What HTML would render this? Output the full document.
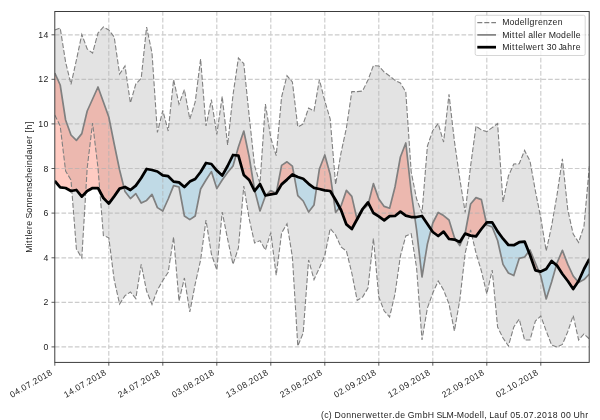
<!DOCTYPE html>
<html><head><meta charset="utf-8"><title>Sonnenscheindauer</title>
<style>html,body{margin:0;padding:0;background:#fff}svg{display:block}text{font-family:"Liberation Sans",sans-serif;fill:#1a1a1a}</style></head>
<body>
<svg width="600" height="420" viewBox="0 0 600 420">
<rect width="600" height="420" fill="#fff"/>
<defs><clipPath id="c"><rect x="54.8" y="11.5" width="534.4" height="350.9"/></clipPath></defs>
<g clip-path="url(#c)">
<polygon points="54.8,30.0 60.2,28.0 65.6,62.0 71.0,84.4 76.4,60.0 81.8,34.4 87.2,49.0 92.6,53.0 98.0,33.0 103.4,27.0 108.8,30.0 114.2,37.0 119.6,74.0 125.0,66.0 130.4,103.0 135.8,84.0 141.2,78.4 146.6,27.0 152.0,53.0 157.4,132.4 162.8,110.5 168.2,131.0 173.6,79.6 179.0,104.0 184.4,89.6 189.8,119.0 195.2,102.0 200.6,59.0 206.0,126.0 211.4,99.6 216.8,134.5 222.2,96.4 227.6,145.0 233.0,95.0 238.4,58.0 243.8,63.6 249.2,116.0 254.6,166.0 260.0,183.5 265.4,104.0 270.8,138.0 276.2,155.6 281.6,97.0 287.0,75.6 292.4,82.0 297.8,127.0 303.2,124.0 308.6,108.0 314.0,111.0 319.4,79.6 324.8,101.0 330.2,119.0 335.6,184.5 341.0,153.0 346.4,128.0 351.8,91.6 357.2,91.6 362.6,91.0 368.0,80.0 373.4,65.6 378.8,66.0 384.2,72.0 389.6,76.0 395.0,80.4 400.4,83.0 405.8,92.0 411.2,172.0 416.6,199.0 422.0,213.0 427.4,146.0 432.8,130.5 438.2,123.6 443.6,142.0 449.0,94.4 454.4,141.0 459.8,179.0 465.2,212.4 470.6,166.0 476.0,126.0 481.4,130.0 486.8,131.6 492.2,127.6 497.6,123.6 503.0,202.0 508.4,176.0 513.8,164.0 519.2,163.8 524.6,150.4 530.0,161.0 535.4,191.0 540.8,218.0 546.2,251.0 551.6,226.0 557.0,195.0 562.4,158.8 567.8,210.0 573.2,234.0 578.6,242.4 584.0,226.0 589.4,166.0 589.4,339.0 584.0,334.0 578.6,340.0 573.2,315.6 567.8,331.6 562.4,344.4 557.0,347.0 551.6,345.0 546.2,331.0 540.8,316.0 535.4,321.0 530.0,340.0 524.6,340.0 519.2,319.0 513.8,327.0 508.4,346.0 503.0,338.0 497.6,327.0 492.2,270.0 486.8,293.8 481.4,271.0 476.0,253.0 470.6,230.0 465.2,253.0 459.8,300.0 454.4,331.0 449.0,304.0 443.6,290.0 438.2,281.0 432.8,293.0 427.4,308.0 422.0,340.0 416.6,268.0 411.2,233.8 405.8,236.0 400.4,256.0 395.0,294.0 389.6,317.0 384.2,311.0 378.8,297.0 373.4,238.4 368.0,288.0 362.6,297.0 357.2,300.4 351.8,273.0 346.4,251.0 341.0,247.0 335.6,235.0 330.2,228.5 324.8,255.6 319.4,268.0 314.0,279.6 308.6,260.0 303.2,333.0 297.8,346.0 292.4,257.0 287.0,223.8 281.6,233.0 276.2,275.3 270.8,232.6 265.4,250.0 260.0,240.6 254.6,243.0 249.2,219.0 243.8,186.0 238.4,248.0 233.0,264.4 227.6,239.0 222.2,212.0 216.8,270.0 211.4,254.0 206.0,220.0 200.6,260.0 195.2,284.0 189.8,312.0 184.4,278.0 179.0,301.0 173.6,237.0 168.2,272.2 162.8,280.5 157.4,290.0 152.0,304.4 146.6,291.0 141.2,264.4 135.8,298.6 130.4,292.0 125.0,295.6 119.6,304.0 114.2,280.0 108.8,237.8 103.4,235.6 98.0,168.0 92.6,123.0 87.2,168.0 81.8,258.0 76.4,249.0 71.0,180.0 65.6,171.0 60.2,126.0 54.8,115.0" fill="rgba(128,128,128,0.225)"/>
<polygon points="54.8,73.0 60.2,85.0 65.6,120.0 71.0,135.0 76.4,140.4 81.8,133.6 87.2,111.0 92.6,99.0 98.0,87.0 103.4,102.0 108.8,117.0 114.2,144.0 119.6,170.0 123.9,187.3 123.9,187.3 119.6,188.6 114.2,196.4 108.8,203.6 103.4,198.0 98.0,188.0 92.6,188.0 87.2,191.0 81.8,196.6 76.4,190.0 71.0,191.0 65.6,188.0 60.2,187.4 54.8,181.0" fill="rgba(255,99,71,0.335)"/>
<polygon points="236.0,155.3 238.4,147.0 243.8,131.0 249.2,157.0 254.6,190.0 254.8,190.8 254.8,190.8 254.6,191.0 249.2,180.0 243.8,175.0 238.4,155.6 236.0,155.3" fill="rgba(255,99,71,0.335)"/>
<polygon points="266.0,195.4 270.8,190.4 276.2,193.5 276.2,193.5 270.8,194.4 266.0,195.4" fill="rgba(255,99,71,0.335)"/>
<polygon points="276.2,193.5 281.6,165.4 287.0,161.8 292.4,166.2 294.1,175.2 294.1,175.2 292.4,174.4 287.0,179.6 281.6,184.4 276.2,193.5" fill="rgba(255,99,71,0.335)"/>
<polygon points="316.5,188.4 319.4,169.0 324.8,155.0 330.2,174.5 333.3,196.1 333.3,196.1 330.2,191.0 324.8,190.4 319.4,189.0 316.5,188.4" fill="rgba(255,99,71,0.335)"/>
<polygon points="339.7,207.6 341.0,206.0 346.4,190.4 351.8,196.4 357.0,219.3 357.0,219.3 351.8,229.0 346.4,224.4 341.0,210.0 339.7,207.6" fill="rgba(255,99,71,0.335)"/>
<polygon points="368.4,203.3 373.4,183.6 378.8,199.0 384.2,206.4 389.6,208.2 395.0,187.0 400.4,157.0 405.8,143.0 411.2,192.0 414.8,217.0 414.8,217.0 411.2,217.0 405.8,215.6 400.4,211.6 395.0,216.0 389.6,216.2 384.2,220.4 378.8,216.4 373.4,213.0 368.4,203.3" fill="rgba(255,99,71,0.335)"/>
<polygon points="431.1,229.5 432.8,223.0 438.2,212.4 443.6,215.6 449.0,220.0 454.4,237.5 456.4,240.5 456.4,240.5 454.4,239.6 449.0,239.0 443.6,231.6 438.2,236.0 432.8,232.0 431.1,229.5" fill="rgba(255,99,71,0.335)"/>
<polygon points="464.4,234.8 465.2,233.0 470.6,204.0 476.0,197.6 481.4,199.6 486.4,222.9 486.4,222.9 481.4,229.0 476.0,236.4 470.6,235.6 465.2,233.6 464.4,234.8" fill="rgba(255,99,71,0.335)"/>
<polygon points="528.7,251.7 530.0,250.0 535.4,263.0 538.8,271.2 538.8,271.2 535.4,270.4 530.0,255.0 528.7,251.7" fill="rgba(255,99,71,0.335)"/>
<polygon points="556.4,265.1 557.0,263.0 562.4,250.4 567.8,264.4 573.2,276.0 578.1,281.8 578.1,281.8 573.2,289.0 567.8,281.0 562.4,274.0 557.0,265.6 556.4,265.1" fill="rgba(255,99,71,0.335)"/>
<polygon points="123.9,187.3 125.0,191.6 130.4,198.6 135.8,193.6 141.2,203.0 146.6,200.4 152.0,194.4 157.4,207.6 162.8,211.0 168.2,199.0 173.6,185.6 179.0,187.0 184.4,216.0 189.8,219.6 195.2,216.0 200.6,189.0 206.0,180.0 211.4,171.6 216.8,188.6 222.2,180.0 227.6,172.5 233.0,166.0 236.0,155.3 236.0,155.3 233.0,155.0 227.6,166.0 222.2,175.6 216.8,170.6 211.4,164.0 206.0,163.0 200.6,172.0 195.2,179.0 189.8,181.6 184.4,187.0 179.0,182.4 173.6,181.6 168.2,176.2 162.8,175.3 157.4,171.5 152.0,170.0 146.6,169.0 141.2,178.0 135.8,185.6 130.4,190.0 125.0,187.0 123.9,187.3" fill="rgba(125,200,235,0.35)"/>
<polygon points="254.8,190.8 260.0,211.0 265.4,196.0 266.0,195.4 266.0,195.4 265.4,195.5 260.0,184.2 254.8,190.8" fill="rgba(125,200,235,0.35)"/>
<polygon points="294.1,175.2 297.8,195.6 303.2,201.0 308.6,212.0 314.0,205.0 316.5,188.4 316.5,188.4 314.0,187.8 308.6,183.8 303.2,178.7 297.8,177.0 294.1,175.2" fill="rgba(125,200,235,0.35)"/>
<polygon points="333.3,196.1 335.6,212.4 339.7,207.6 339.7,207.6 335.6,200.0 333.3,196.1" fill="rgba(125,200,235,0.35)"/>
<polygon points="357.0,219.3 357.2,220.0 362.6,210.0 368.0,205.0 368.4,203.3 368.4,203.3 368.0,202.4 362.6,209.0 357.2,219.0 357.0,219.3" fill="rgba(125,200,235,0.35)"/>
<polygon points="414.8,217.0 416.6,230.0 422.0,277.0 427.4,244.0 431.1,229.5 431.1,229.5 427.4,224.0 422.0,216.0 416.6,217.0 414.8,217.0" fill="rgba(125,200,235,0.35)"/>
<polygon points="456.4,240.5 459.8,245.6 464.4,234.8 464.4,234.8 459.8,242.0 456.4,240.5" fill="rgba(125,200,235,0.35)"/>
<polygon points="486.4,222.9 486.8,225.0 492.2,227.0 497.6,240.5 503.0,264.4 508.4,273.0 513.8,275.6 519.2,258.4 524.6,257.0 528.7,251.7 528.7,251.7 524.6,241.6 519.2,242.2 513.8,245.2 508.4,245.0 503.0,238.7 497.6,231.4 492.2,222.4 486.8,222.4 486.4,222.9" fill="rgba(125,200,235,0.35)"/>
<polygon points="538.8,271.2 540.8,276.0 546.2,299.0 551.6,282.0 556.4,265.1 556.4,265.1 551.6,261.0 546.2,269.0 540.8,271.6 538.8,271.2" fill="rgba(125,200,235,0.35)"/>
<polygon points="578.1,281.8 578.6,282.4 584.0,279.6 589.4,274.0 589.4,259.0 584.0,269.0 578.6,281.0 578.1,281.8" fill="rgba(125,200,235,0.35)"/>
<path d="M108.8,362.4V11.5 M162.8,362.4V11.5 M216.8,362.4V11.5 M270.8,362.4V11.5 M324.8,362.4V11.5 M378.8,362.4V11.5 M432.8,362.4V11.5 M486.8,362.4V11.5 M540.8,362.4V11.5 M54.8,346.9H589.2 M54.8,302.3H589.2 M54.8,257.8H589.2 M54.8,213.1H589.2 M54.8,168.5H589.2 M54.8,123.9H589.2 M54.8,79.3H589.2 M54.8,34.8H589.2" fill="none" stroke="rgba(176,176,176,0.65)" stroke-width="1.15" stroke-dasharray="4.65 2.017"/>
<polyline points="54.8,30.0 60.2,28.0 65.6,62.0 71.0,84.4 76.4,60.0 81.8,34.4 87.2,49.0 92.6,53.0 98.0,33.0 103.4,27.0 108.8,30.0 114.2,37.0 119.6,74.0 125.0,66.0 130.4,103.0 135.8,84.0 141.2,78.4 146.6,27.0 152.0,53.0 157.4,132.4 162.8,110.5 168.2,131.0 173.6,79.6 179.0,104.0 184.4,89.6 189.8,119.0 195.2,102.0 200.6,59.0 206.0,126.0 211.4,99.6 216.8,134.5 222.2,96.4 227.6,145.0 233.0,95.0 238.4,58.0 243.8,63.6 249.2,116.0 254.6,166.0 260.0,183.5 265.4,104.0 270.8,138.0 276.2,155.6 281.6,97.0 287.0,75.6 292.4,82.0 297.8,127.0 303.2,124.0 308.6,108.0 314.0,111.0 319.4,79.6 324.8,101.0 330.2,119.0 335.6,184.5 341.0,153.0 346.4,128.0 351.8,91.6 357.2,91.6 362.6,91.0 368.0,80.0 373.4,65.6 378.8,66.0 384.2,72.0 389.6,76.0 395.0,80.4 400.4,83.0 405.8,92.0 411.2,172.0 416.6,199.0 422.0,213.0 427.4,146.0 432.8,130.5 438.2,123.6 443.6,142.0 449.0,94.4 454.4,141.0 459.8,179.0 465.2,212.4 470.6,166.0 476.0,126.0 481.4,130.0 486.8,131.6 492.2,127.6 497.6,123.6 503.0,202.0 508.4,176.0 513.8,164.0 519.2,163.8 524.6,150.4 530.0,161.0 535.4,191.0 540.8,218.0 546.2,251.0 551.6,226.0 557.0,195.0 562.4,158.8 567.8,210.0 573.2,234.0 578.6,242.4 584.0,226.0 589.4,166.0" fill="none" stroke="#808080" stroke-width="1.1" stroke-dasharray="5 2"/>
<polyline points="54.8,115.0 60.2,126.0 65.6,171.0 71.0,180.0 76.4,249.0 81.8,258.0 87.2,168.0 92.6,123.0 98.0,168.0 103.4,235.6 108.8,237.8 114.2,280.0 119.6,304.0 125.0,295.6 130.4,292.0 135.8,298.6 141.2,264.4 146.6,291.0 152.0,304.4 157.4,290.0 162.8,280.5 168.2,272.2 173.6,237.0 179.0,301.0 184.4,278.0 189.8,312.0 195.2,284.0 200.6,260.0 206.0,220.0 211.4,254.0 216.8,270.0 222.2,212.0 227.6,239.0 233.0,264.4 238.4,248.0 243.8,186.0 249.2,219.0 254.6,243.0 260.0,240.6 265.4,250.0 270.8,232.6 276.2,275.3 281.6,233.0 287.0,223.8 292.4,257.0 297.8,346.0 303.2,333.0 308.6,260.0 314.0,279.6 319.4,268.0 324.8,255.6 330.2,228.5 335.6,235.0 341.0,247.0 346.4,251.0 351.8,273.0 357.2,300.4 362.6,297.0 368.0,288.0 373.4,238.4 378.8,297.0 384.2,311.0 389.6,317.0 395.0,294.0 400.4,256.0 405.8,236.0 411.2,233.8 416.6,268.0 422.0,340.0 427.4,308.0 432.8,293.0 438.2,281.0 443.6,290.0 449.0,304.0 454.4,331.0 459.8,300.0 465.2,253.0 470.6,230.0 476.0,253.0 481.4,271.0 486.8,293.8 492.2,270.0 497.6,327.0 503.0,338.0 508.4,346.0 513.8,327.0 519.2,319.0 524.6,340.0 530.0,340.0 535.4,321.0 540.8,316.0 546.2,331.0 551.6,345.0 557.0,347.0 562.4,344.4 567.8,331.6 573.2,315.6 578.6,340.0 584.0,334.0 589.4,339.0" fill="none" stroke="#808080" stroke-width="1.1" stroke-dasharray="5 2"/>
<polyline points="54.8,73.0 60.2,85.0 65.6,120.0 71.0,135.0 76.4,140.4 81.8,133.6 87.2,111.0 92.6,99.0 98.0,87.0 103.4,102.0 108.8,117.0 114.2,144.0 119.6,170.0 125.0,191.6 130.4,198.6 135.8,193.6 141.2,203.0 146.6,200.4 152.0,194.4 157.4,207.6 162.8,211.0 168.2,199.0 173.6,185.6 179.0,187.0 184.4,216.0 189.8,219.6 195.2,216.0 200.6,189.0 206.0,180.0 211.4,171.6 216.8,188.6 222.2,180.0 227.6,172.5 233.0,166.0 238.4,147.0 243.8,131.0 249.2,157.0 254.6,190.0 260.0,211.0 265.4,196.0 270.8,190.4 276.2,193.5 281.6,165.4 287.0,161.8 292.4,166.2 297.8,195.6 303.2,201.0 308.6,212.0 314.0,205.0 319.4,169.0 324.8,155.0 330.2,174.5 335.6,212.4 341.0,206.0 346.4,190.4 351.8,196.4 357.2,220.0 362.6,210.0 368.0,205.0 373.4,183.6 378.8,199.0 384.2,206.4 389.6,208.2 395.0,187.0 400.4,157.0 405.8,143.0 411.2,192.0 416.6,230.0 422.0,277.0 427.4,244.0 432.8,223.0 438.2,212.4 443.6,215.6 449.0,220.0 454.4,237.5 459.8,245.6 465.2,233.0 470.6,204.0 476.0,197.6 481.4,199.6 486.8,225.0 492.2,227.0 497.6,240.5 503.0,264.4 508.4,273.0 513.8,275.6 519.2,258.4 524.6,257.0 530.0,250.0 535.4,263.0 540.8,276.0 546.2,299.0 551.6,282.0 557.0,263.0 562.4,250.4 567.8,264.4 573.2,276.0 578.6,282.4 584.0,279.6 589.4,274.0" fill="none" stroke="#808080" stroke-width="1.7" stroke-linejoin="round"/>
<polyline points="54.8,181.0 60.2,187.4 65.6,188.0 71.0,191.0 76.4,190.0 81.8,196.6 87.2,191.0 92.6,188.0 98.0,188.0 103.4,198.0 108.8,203.6 114.2,196.4 119.6,188.6 125.0,187.0 130.4,190.0 135.8,185.6 141.2,178.0 146.6,169.0 152.0,170.0 157.4,171.5 162.8,175.3 168.2,176.2 173.6,181.6 179.0,182.4 184.4,187.0 189.8,181.6 195.2,179.0 200.6,172.0 206.0,163.0 211.4,164.0 216.8,170.6 222.2,175.6 227.6,166.0 233.0,155.0 238.4,155.6 243.8,175.0 249.2,180.0 254.6,191.0 260.0,184.2 265.4,195.5 270.8,194.4 276.2,193.5 281.6,184.4 287.0,179.6 292.4,174.4 297.8,177.0 303.2,178.7 308.6,183.8 314.0,187.8 319.4,189.0 324.8,190.4 330.2,191.0 335.6,200.0 341.0,210.0 346.4,224.4 351.8,229.0 357.2,219.0 362.6,209.0 368.0,202.4 373.4,213.0 378.8,216.4 384.2,220.4 389.6,216.2 395.0,216.0 400.4,211.6 405.8,215.6 411.2,217.0 416.6,217.0 422.0,216.0 427.4,224.0 432.8,232.0 438.2,236.0 443.6,231.6 449.0,239.0 454.4,239.6 459.8,242.0 465.2,233.6 470.6,235.6 476.0,236.4 481.4,229.0 486.8,222.4 492.2,222.4 497.6,231.4 503.0,238.7 508.4,245.0 513.8,245.2 519.2,242.2 524.6,241.6 530.0,255.0 535.4,270.4 540.8,271.6 546.2,269.0 551.6,261.0 557.0,265.6 562.4,274.0 567.8,281.0 573.2,289.0 578.6,281.0 584.0,269.0 589.4,259.0" fill="none" stroke="#000" stroke-width="2.75" stroke-linejoin="round"/>
</g>
<rect x="54.8" y="11.5" width="534.4" height="350.9" fill="none" stroke="#333" stroke-width="0.95"/>
<path d="M54.8,362.4v3.3 M108.8,362.4v3.3 M162.8,362.4v3.3 M216.8,362.4v3.3 M270.8,362.4v3.3 M324.8,362.4v3.3 M378.8,362.4v3.3 M432.8,362.4v3.3 M486.8,362.4v3.3 M540.8,362.4v3.3 M54.8,346.9h-3.3 M54.8,302.3h-3.3 M54.8,257.8h-3.3 M54.8,213.1h-3.3 M54.8,168.5h-3.3 M54.8,123.9h-3.3 M54.8,79.3h-3.3 M54.8,34.8h-3.3" fill="none" stroke="#333" stroke-width="0.8"/>
<rect x="475.2" y="15.3" width="110" height="40.2" rx="1.7" fill="#fff" fill-opacity="0.8" stroke="#ccc" stroke-width="0.8"/>
<path d="M477.3,22.6H496" stroke="#808080" stroke-width="1.1" stroke-dasharray="5 2" fill="none"/>
<path d="M477.3,34.9H496" stroke="#808080" stroke-width="1.7" fill="none"/>
<path d="M477.3,47.2H496" stroke="#000" stroke-width="2.75" fill="none"/>
<g opacity="0.99">
<text x="43.43" y="350.1" font-size="8.7">0</text>
<text x="43.43" y="305.4" font-size="8.7">2</text>
<text x="43.43" y="260.9" font-size="8.7">4</text>
<text x="43.43" y="216.2" font-size="8.7">6</text>
<text x="43.43" y="171.6" font-size="8.7">8</text>
<text x="38.13 43.43" y="127.0" font-size="8.7">10</text>
<text x="38.13 43.43" y="82.4" font-size="8.7">12</text>
<text x="38.13 43.43" y="37.9" font-size="8.7">14</text>
<text transform="translate(53.0,374.2) rotate(-30)" x="-47.48 -42.18 -36.99 -34.23 -28.93 -23.74 -20.98 -15.67 -10.37 -5.07" y="0.0" font-size="8.7">04.07.2018</text>
<text transform="translate(107.0,374.2) rotate(-30)" x="-47.48 -42.18 -36.99 -34.23 -28.93 -23.74 -20.98 -15.67 -10.37 -5.07" y="0.0" font-size="8.7">14.07.2018</text>
<text transform="translate(161.0,374.2) rotate(-30)" x="-47.48 -42.18 -36.99 -34.23 -28.93 -23.74 -20.98 -15.67 -10.37 -5.07" y="0.0" font-size="8.7">24.07.2018</text>
<text transform="translate(215.0,374.2) rotate(-30)" x="-47.48 -42.18 -36.99 -34.23 -28.93 -23.74 -20.98 -15.67 -10.37 -5.07" y="0.0" font-size="8.7">03.08.2018</text>
<text transform="translate(269.0,374.2) rotate(-30)" x="-47.48 -42.18 -36.99 -34.23 -28.93 -23.74 -20.98 -15.67 -10.37 -5.07" y="0.0" font-size="8.7">13.08.2018</text>
<text transform="translate(323.0,374.2) rotate(-30)" x="-47.48 -42.18 -36.99 -34.23 -28.93 -23.74 -20.98 -15.67 -10.37 -5.07" y="0.0" font-size="8.7">23.08.2018</text>
<text transform="translate(377.0,374.2) rotate(-30)" x="-47.48 -42.18 -36.99 -34.23 -28.93 -23.74 -20.98 -15.67 -10.37 -5.07" y="0.0" font-size="8.7">02.09.2018</text>
<text transform="translate(431.0,374.2) rotate(-30)" x="-47.48 -42.18 -36.99 -34.23 -28.93 -23.74 -20.98 -15.67 -10.37 -5.07" y="0.0" font-size="8.7">12.09.2018</text>
<text transform="translate(485.0,374.2) rotate(-30)" x="-47.48 -42.18 -36.99 -34.23 -28.93 -23.74 -20.98 -15.67 -10.37 -5.07" y="0.0" font-size="8.7">22.09.2018</text>
<text transform="translate(539.0,374.2) rotate(-30)" x="-47.48 -42.18 -36.99 -34.23 -28.93 -23.74 -20.98 -15.67 -10.37 -5.07" y="0.0" font-size="8.7">02.10.2018</text>
<text transform="translate(31.8,187) rotate(-90)" x="-65.84 -58.43 -55.89 -52.62 -49.59 -47.32 -42.07 -38.76 -33.67 -31.39 -25.71 -20.52 -15.24 -10.04 -4.83 0.22 4.68 9.37 14.57 19.75 22.09 27.38 32.58 37.77 42.97 48.22 51.50 54.45 57.50 62.98" y="0.0" font-size="8.7">Mittlere Sonnenscheindauer [h]</text>
<text x="321.00 324.19 328.83 332.02 334.62 341.10 346.29 351.57 356.78 362.02 365.45 372.14 377.55 380.82 383.81 389.05 392.33 395.09 400.30 405.40 407.77 414.82 422.73 427.78 434.17 436.45 441.90 446.61 453.88 456.81 464.16 469.35 474.56 479.73 482.05 484.29 486.94 489.37 494.24 499.44 504.76 507.55 510.31 515.61 520.80 523.56 528.87 534.05 536.82 542.12 547.42 552.72 557.91 560.67 565.97 571.16 573.60 580.01 585.34" y="417.5" font-size="8.7">(c) Donnerwetter.de GmbH SLM-Modell, Lauf 05.07.2018 00 Uhr</text>
<text x="502.22 509.48 514.60 519.74 524.86 527.14 529.44 534.71 537.95 543.08 548.09 552.53 557.66" y="25.3" font-size="8.7">Modellgrenzen</text>
<text x="502.22 509.56 512.07 515.30 518.22 523.34 525.55 528.16 533.27 535.56 537.77 542.96 546.20 548.63 555.89 561.01 566.15 571.27 573.55 575.77" y="37.9" font-size="8.7">Mittel aller Modelle</text>
<text x="502.22 509.56 512.07 515.30 518.22 523.34 525.67 532.28 537.47 541.01 543.92 546.63 551.86 556.99 558.54 562.03 567.15 572.41 575.66" y="50.2" font-size="8.7">Mittelwert 30 Jahre</text>
</g>
</svg></body></html>
